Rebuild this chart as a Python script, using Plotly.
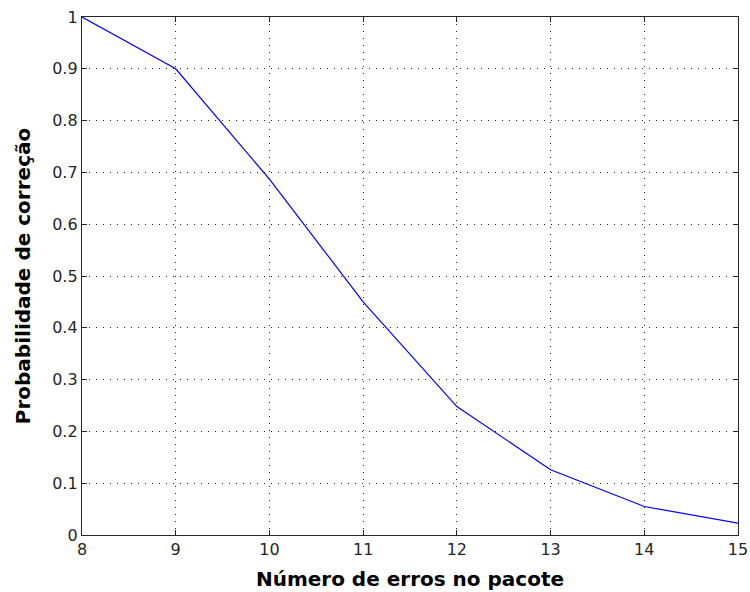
import plotly.graph_objects as go

errors = [8, 9, 10, 11, 12, 13, 14, 15]
prob = [1.0, 0.9, 0.687, 0.45, 0.248, 0.126, 0.055, 0.023]
x_ticks = [8, 9, 10, 11, 12, 13, 14, 15]
y_ticks = [0, 0.1, 0.2, 0.3, 0.4, 0.5, 0.6, 0.7, 0.8, 0.9, 1]
y_tick_labels = ["0", "0.1", "0.2", "0.3", "0.4", "0.5", "0.6", "0.7", "0.8", "0.9", "1"]

fig = go.Figure()
fig.add_trace(go.Scatter(x=errors, y=prob, mode="lines",
                         line=dict(color="#0000ff", width=1.2), showlegend=False))

axis_common = dict(
    showline=True, linecolor="#262626", linewidth=1.3, mirror="ticks",
    ticks="inside", ticklen=5, tickcolor="#262626", tickwidth=1,
    showgrid=True, gridcolor="#262626", gridwidth=1, griddash="1px,6px",
    zeroline=False, automargin=False, ticklabeloverflow="allow",
    tickfont=dict(family="DejaVu Sans", size=16, color="#262626"),
)

title_font = dict(family="DejaVu Sans", size=20, color="black", weight="bold")

fig.update_xaxes(range=[8, 15], tickvals=x_ticks,
                 title=dict(text="Número de erros no pacote", font=title_font, standoff=13),
                 **axis_common)
fig.update_yaxes(range=[0, 1], tickvals=y_ticks, ticktext=y_tick_labels,
                 title=dict(text="Probabilidade de correção", font=title_font, standoff=16),
                 **axis_common)

fig.update_layout(width=750, height=592,
                  margin=dict(l=82, r=12, t=17, b=57),
                  paper_bgcolor="white", plot_bgcolor="white")

fig.write_html("out.html",
               config={"displayModeBar": False},
               post_script="document.body.style.margin='0';document.body.style.overflow='hidden';")
